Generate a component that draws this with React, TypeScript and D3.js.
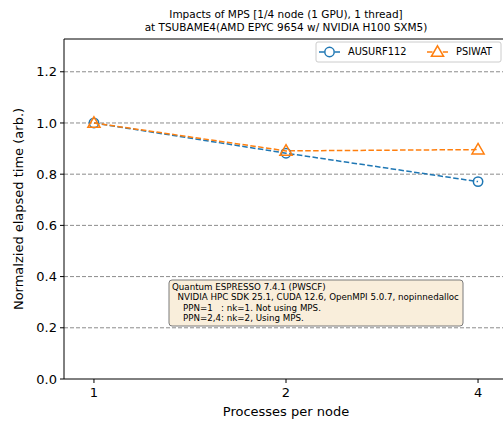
import * as d3 from 'd3';
import React, { useRef, useEffect } from 'react';

const ppn = [1, 2, 4];
const ausurf112 = [1.0, 0.882, 0.771];
const psiwat = [1.0, 0.891, 0.896];
const yTicks = [0.0, 0.2, 0.4, 0.6, 0.8, 1.0, 1.2];
const seriesNames = ['AUSURF112', 'PSIWAT'];
const titleLines = [
    'Impacts of MPS [1/4 node (1 GPU), 1 thread]',
    'at TSUBAME4(AMD EPYC 9654 w/ NVIDIA H100 SXM5)',
];
const noteLines = [
    'Quantum ESPRESSO 7.4.1 (PWSCF)',
    '  NVIDIA HPC SDK 25.1, CUDA 12.6, OpenMPI 5.0.7, nopinnedalloc',
    '    PPN=1   : nk=1. Not using MPS.',
    '    PPN=2,4: nk=2, Using MPS.',
];

const App = () => {
    const svgRef = useRef<SVGSVGElement>(null);
    const width = 503;
    const height = 423;

    useEffect(() => {
        draw();
    }, []);

    const draw = () => {
        const svg = d3.select(svgRef.current);
        svg.selectAll('*').remove();
        const font = 'DejaVu Sans, sans-serif';

        const left = 64, top = 39, bottom = 379, right = 508;

        const xScale = d3.scaleLog().base(2).domain([Math.pow(2, -0.156), Math.pow(2, 2.156)]).range([left, right]);
        const yScale = d3.scaleLinear().domain([0, 1.328]).range([bottom, top]);

        // grid
        svg.selectAll('.grid')
            .data(yTicks.filter((d) => d > 0))
            .enter()
            .append('line')
            .attr('x1', left)
            .attr('x2', right)
            .attr('y1', (d) => yScale(d))
            .attr('y2', (d) => yScale(d))
            .attr('stroke', '#8c8c8c')
            .attr('stroke-width', 1)
            .attr('stroke-dasharray', '4,2');

        // lines
        const colors = ['#1f77b4', '#ff7f0e'];
        const all = [ausurf112, psiwat];
        const line = d3.line<number>()
            .x((d, i) => xScale(ppn[i]))
            .y((d) => yScale(d));

        all.forEach((vals, k) => {
            svg.append('path')
                .attr('d', line(vals))
                .attr('fill', 'none')
                .attr('stroke', colors[k])
                .attr('stroke-width', 1.5)
                .attr('stroke-dasharray', '5.5,2.4');
        });

        const tri = d3.symbol().type(d3.symbolTriangle).size(64);
        // markers
        all.forEach((vals, k) => {
            vals.forEach((v, i) => {
                if (k === 0) {
                    svg.append('circle')
                        .attr('cx', xScale(ppn[i]))
                        .attr('cy', yScale(v))
                        .attr('r', 4.7)
                        .attr('fill', 'none')
                        .attr('stroke', colors[k])
                        .attr('stroke-width', 1.5);
                } else {
                    svg.append('path')
                        .attr('d', tri())
                        .attr('transform', `translate(${xScale(ppn[i])},${yScale(v) + 0.8})`)
                        .attr('fill', 'none')
                        .attr('stroke', colors[k])
                        .attr('stroke-width', 1.5);
                }
            });
        });

        // spines
        svg.append('line').attr('x1', left).attr('x2', left).attr('y1', top).attr('y2', bottom)
            .attr('stroke', 'black').attr('stroke-width', 1);
        svg.append('line').attr('x1', left).attr('x2', right).attr('y1', top).attr('y2', top)
            .attr('stroke', 'black').attr('stroke-width', 1);
        svg.append('line').attr('x1', left).attr('x2', right).attr('y1', bottom).attr('y2', bottom)
            .attr('stroke', 'black').attr('stroke-width', 1);

        // y ticks
        yTicks.forEach((t) => {
            svg.append('line').attr('x1', left - 4).attr('x2', left).attr('y1', yScale(t)).attr('y2', yScale(t))
                .attr('stroke', 'black');
            svg.append('text')
                .attr('x', left - 7)
                .attr('y', yScale(t))
                .attr('dy', '0.35em')
                .attr('text-anchor', 'end')
                .attr('font-family', font)
                .attr('font-size', 13)
                .text(d3.format('.1f')(t));
        });

        // x ticks
        ppn.forEach((p) => {
            svg.append('line').attr('x1', xScale(p)).attr('x2', xScale(p)).attr('y1', bottom).attr('y2', bottom + 4)
                .attr('stroke', 'black');
            svg.append('text')
                .attr('x', xScale(p))
                .attr('y', bottom + 18)
                .attr('text-anchor', 'middle')
                .attr('font-family', font)
                .attr('font-size', 13)
                .text(p);
        });

        svg.append('text')
            .attr('x', (left + right) / 2)
            .attr('y', 416)
            .attr('text-anchor', 'middle')
            .attr('font-family', font)
            .attr('font-size', 13)
            .text('Processes per node');

        svg.append('text')
            .attr('transform', `translate(23, ${(top + bottom) / 2}) rotate(-90)`)
            .attr('text-anchor', 'middle')
            .attr('font-family', font)
            .attr('font-size', 13)
            .text('Normalzied elapsed time (arb.)');

        titleLines.forEach((s, i) => {
            svg.append('text')
                .attr('x', (left + right) / 2)
                .attr('y', 18 + i * 12.5)
                .attr('text-anchor', 'middle')
                .attr('font-family', font)
                .attr('font-size', 10.5)
                .text(s);
        });

        // legend
        const lg = svg.append('g');
        lg.append('rect')
            .attr('x', 316).attr('y', 42).attr('width', 185).attr('height', 20).attr('rx', 2)
            .attr('fill', 'white').attr('fill-opacity', 0.8).attr('stroke', '#cccccc');
        const legX = [319, 427];
        seriesNames.forEach((name, k) => {
            lg.append('line')
                .attr('x1', legX[k]).attr('x2', legX[k] + 21).attr('y1', 52).attr('y2', 52)
                .attr('stroke', colors[k]).attr('stroke-width', 1.5).attr('stroke-dasharray', '5.5,2.4');
            if (k === 0) {
                lg.append('circle').attr('cx', legX[k] + 10.5).attr('cy', 52).attr('r', 4.7)
                    .attr('fill', 'white').attr('stroke', colors[k]).attr('stroke-width', 1.5);
            } else {
                lg.append('path').attr('d', tri())
                    .attr('transform', `translate(${legX[k] + 10.5},${52.8})`)
                    .attr('fill', 'white').attr('stroke', colors[k]).attr('stroke-width', 1.5);
            }
            lg.append('text')
                .attr('x', legX[k] + 29).attr('y', 52).attr('dy', '0.35em')
                .attr('font-family', font).attr('font-size', 9.8)
                .text(name);
        });

        // note box
        const note = svg.append('g');
        note.append('rect')
            .attr('x', 169).attr('y', 280).attr('width', 294).attr('height', 46).attr('rx', 3)
            .attr('fill', '#f9eedb').attr('stroke', '#7a7a7a').attr('stroke-width', 1);
        noteLines.forEach((s, i) => {
            note.append('text')
                .attr('x', 172)
                .attr('y', 290 + i * 10.3)
                .attr('font-family', font)
                .attr('font-size', 8.7)
                .attr('xml:space', 'preserve')
                .style('white-space', 'pre')
                .text(s);
        });
    };

    return (
        <svg ref={svgRef} width={width} height={height} style={{ display: 'block', position: 'absolute', left: 0, top: 0 }}>
        </svg>
    );
};

export default App;
